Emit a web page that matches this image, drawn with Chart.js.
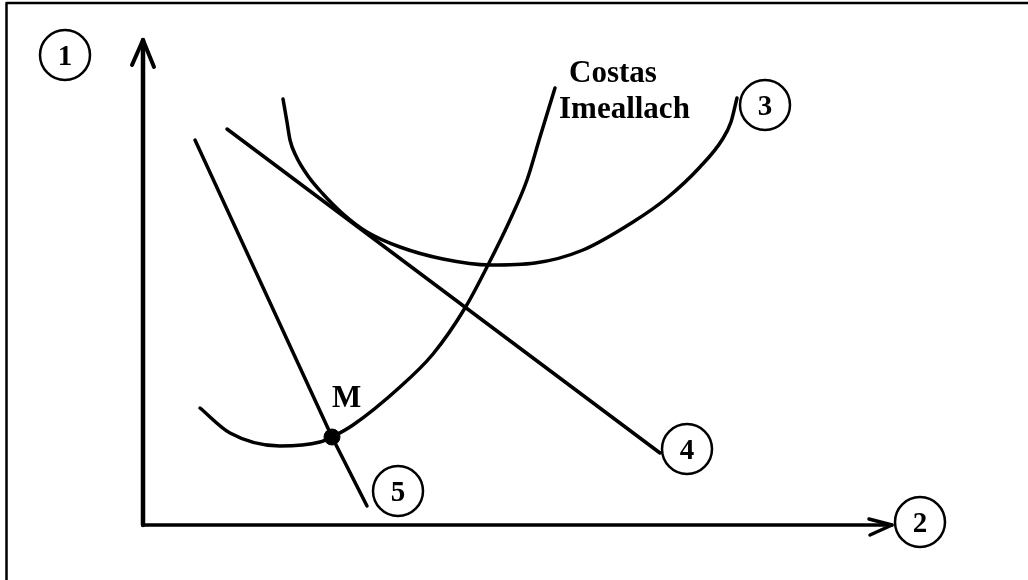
<!DOCTYPE html>
<html>
<head>
<meta charset="utf-8">
<script src="https://cdn.jsdelivr.net/npm/chart.js@4"></script>
<style>
  html, body { margin: 0; padding: 0; background: #fff; }
  canvas { display: block; }
</style>
</head>
<body>
<canvas id="costChart" width="1028" height="580"></canvas>
<script>
// curve 5 (steep straight line through M)
const line5X = [5.2, 18.9, 22.4];
const line5Y = [38.5, 8.8, 1.9];

// curve 4 (straight line)
const line4X = [8.4, 51.7];
const line4Y = [39.6, 7.2];

// curve 3 (U shaped)
const curve3X = [14.0, 14.4, 14.7, 15.3, 16.5, 18.0, 19.9, 22.4, 25.7, 30.0, 34.7, 39.2, 44.0, 49.0, 52.4, 55.7, 57.9, 58.8, 59.4];
const curve3Y = [42.6, 40.3, 38.5, 36.9, 34.9, 33.1, 31.2, 29.3, 27.8, 26.6, 26.0, 26.2, 27.5, 30.3, 32.7, 35.8, 38.5, 40.3, 42.7];

// Costas Imeallach
const mcX = [5.7, 8.7, 13.7, 17.7, 18.9, 21.0, 25.7, 29.0, 32.2, 34.5, 36.7, 38.4, 39.7, 41.2];
const mcY = [11.7, 9.2, 7.9, 8.3, 8.8, 10.0, 13.8, 17.1, 21.7, 26.0, 30.5, 34.5, 38.8, 43.7];

// point M
const pointM = { x: 18.9, y: 8.8 };

// axis lengths
const xAxisEnd = 74.9;
const yAxisEnd = 48.5;

// numbered circles and text labels
const circleLabels = ["1", "2", "3", "4", "5"];
const circleX = [-7.8, 77.7, 62.2, 54.4, 25.5];
const circleY = [47.0, 0.3, 42.0, 7.6, 3.4];

const textLabels = ["Costas", "Imeallach", "M"];
const textX = [42.6, 41.6, 18.9];
const textY = [44.3, 40.7, 11.8];

function zip(xs, ys) {
  return xs.map((x, i) => ({ x, y: ys[i] }));
}

function lineSet(xs, ys, smooth) {
  return {
    data: zip(xs, ys),
    showLine: true,
    borderColor: "#000",
    borderWidth: 3.5,
    pointRadius: 0,
    fill: false,
    cubicInterpolationMode: smooth ? "monotone" : "default",
    tension: 0,
    borderCapStyle: "round",
  };
}

const sketchPlugin = {
  id: "sketch",
  beforeDatasetsDraw(chart) {
    const { ctx, scales } = chart;
    const sx = scales.x, sy = scales.y;
    const ox = sx.getPixelForValue(0), oy = sy.getPixelForValue(0);
    ctx.save();
    ctx.strokeStyle = "#000";
    ctx.lineCap = "round";
    ctx.lineJoin = "round";

    // frame (top and left only)
    ctx.lineWidth = 2.5;
    ctx.beginPath();
    ctx.moveTo(6.5, 580);
    ctx.lineTo(6.5, 3);
    ctx.lineTo(1028, 3);
    ctx.stroke();

    // y axis with arrow
    const ty = sy.getPixelForValue(yAxisEnd);
    ctx.lineWidth = 4.5;
    ctx.beginPath();
    ctx.moveTo(ox, oy);
    ctx.lineTo(ox, ty);
    ctx.stroke();
    ctx.lineWidth = 4;
    ctx.beginPath();
    ctx.moveTo(ox - 11, ty + 25);
    ctx.lineTo(ox, ty);
    ctx.lineTo(ox + 11, ty + 27);
    ctx.stroke();

    // x axis with arrow
    const tx = sx.getPixelForValue(xAxisEnd);
    ctx.lineWidth = 3.5;
    ctx.beginPath();
    ctx.moveTo(ox, oy);
    ctx.lineTo(tx, oy);
    ctx.stroke();
    ctx.beginPath();
    ctx.moveTo(tx - 23, oy - 6);
    ctx.lineTo(tx, oy);
    ctx.lineTo(tx - 22, oy + 10);
    ctx.stroke();
    ctx.restore();
  },
  afterDatasetsDraw(chart) {
    const { ctx, scales } = chart;
    const sx = scales.x, sy = scales.y;
    ctx.save();
    ctx.fillStyle = "#000";
    ctx.strokeStyle = "#000";

    circleLabels.forEach((label, i) => {
      const cx = sx.getPixelForValue(circleX[i]);
      const cy = sy.getPixelForValue(circleY[i]);
      ctx.fillStyle = "#fff";
      ctx.lineWidth = 2.5;
      ctx.beginPath();
      ctx.arc(cx, cy, 25, 0, Math.PI * 2);
      ctx.fill();
      ctx.stroke();
      ctx.fillStyle = "#000";
      ctx.font = "bold 29px 'Liberation Serif'";
      ctx.textAlign = "center";
      ctx.textBaseline = "alphabetic";
      ctx.fillText(label, cx, cy + 10);
    });

    ctx.font = "bold 31px 'Liberation Serif'";
    ctx.textAlign = "left";
    ctx.textBaseline = "alphabetic";
    textLabels.forEach((label, i) => {
      ctx.fillText(label, sx.getPixelForValue(textX[i]), sy.getPixelForValue(textY[i]));
    });
    ctx.restore();
  },
};

new Chart(document.getElementById("costChart").getContext("2d"), {
  type: "scatter",
  data: {
    datasets: [
      lineSet(line5X, line5Y, false),
      lineSet(line4X, line4Y, false),
      lineSet(curve3X, curve3Y, true),
      lineSet(mcX, mcY, true),
      {
        data: [pointM],
        pointRadius: 8,
        pointBackgroundColor: "#000",
        pointBorderColor: "#000",
        showLine: false,
      },
    ],
  },
  options: {
    responsive: false,
    animation: false,
    layout: { padding: 0, autoPadding: false },
    plugins: {
      legend: { display: false },
      tooltip: { enabled: false },
      title: { display: false },
    },
    scales: {
      x: { type: "linear", min: -14.3, max: 88.5, display: false },
      y: { type: "linear", min: -5.5, max: 52.5, display: false },
    },
  },
  plugins: [sketchPlugin],
});
</script>
</body>
</html>
